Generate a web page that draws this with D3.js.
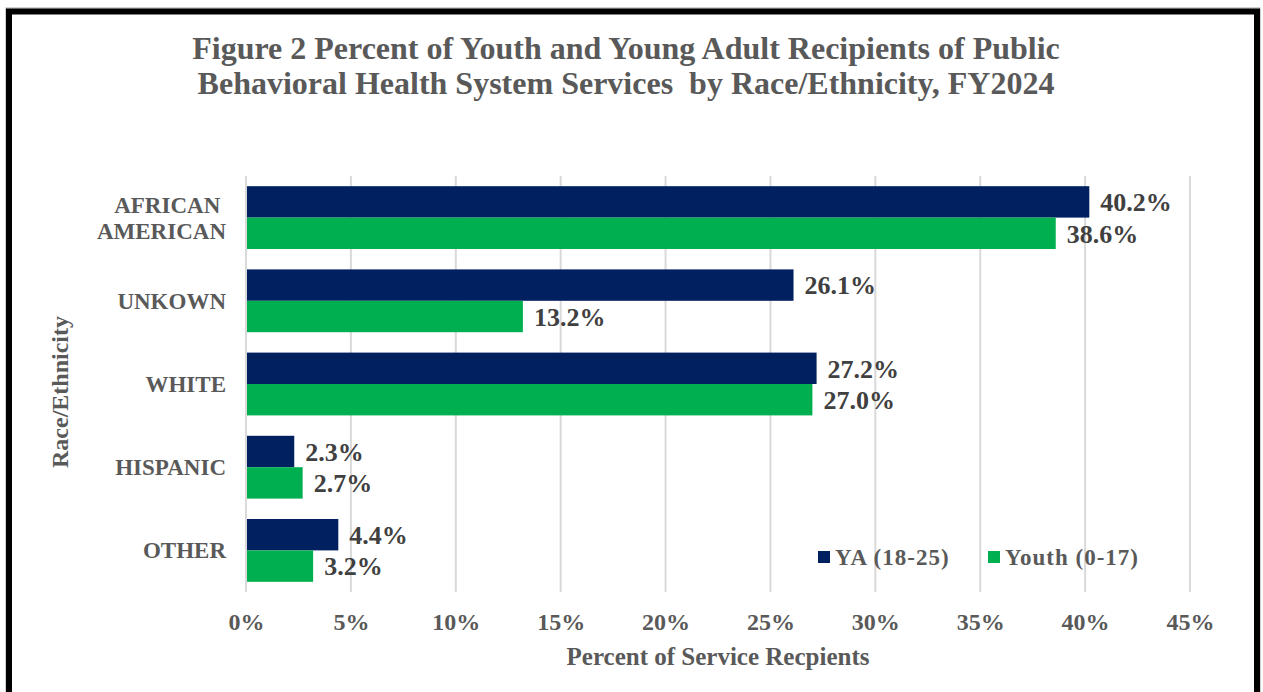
<!DOCTYPE html>
<html>
<head>
<meta charset="utf-8">
<script src="https://cdn.jsdelivr.net/npm/d3@7"></script>
<style>
  html, body { margin: 0; padding: 0; background: #fff; }
  svg { display: block; font-family: "Liberation Serif", "Times New Roman", serif; font-weight: bold; }
</style>
</head>
<body>
<svg id="chart" width="1263" height="692"></svg>
<script>
// Race/ethnicity groups, top to bottom
const categories = ["AFRICAN AMERICAN", "UNKOWN", "WHITE", "HISPANIC", "OTHER"];
const categoryLines = [["AFRICAN ", "AMERICAN"], ["UNKOWN"], ["WHITE"], ["HISPANIC"], ["OTHER"]];
// Percent of service recipients per group
const yaValues = [40.2, 26.1, 27.2, 2.3, 4.4];
const youthValues = [38.6, 13.2, 27.0, 2.7, 3.2];
const seriesNames = ["YA (18-25)", "Youth (0-17)"];
const xTicks = [0, 5, 10, 15, 20, 25, 30, 35, 40, 45];

const colors = { ya: "#002060", youth: "#00B050" };
const textGray = "#595959";

const svg = d3.select("#chart");

// outer frame
svg.append("rect").attr("x", 6).attr("y", 8).attr("width", 1254).attr("height", 700)
  .attr("fill", "#fff").attr("stroke", "#a6a6a6").attr("stroke-width", 1);
svg.append("rect").attr("x", 9).attr("y", 11.5).attr("width", 1248).attr("height", 700)
  .attr("fill", "none").attr("stroke", "#000").attr("stroke-width", 6);

// title
const title = svg.append("text").attr("text-anchor", "middle").attr("fill", textGray)
  .attr("font-size", 32);
title.append("tspan").attr("x", 626).attr("y", 59)
  .text("Figure 2 Percent of Youth and Young Adult Recipients of Public");
title.append("tspan").attr("x", 626).attr("y", 94).attr("xml:space", "preserve")
  .text("Behavioral Health System Services  by Race/Ethnicity, FY2024");

const plot = { left: 246, right: 1190, top: 176, bottom: 592 };

const x = d3.scaleLinear().domain([0, 45]).range([plot.left, plot.right]);
const y = d3.scaleBand().domain(categories).range([plot.top, plot.bottom])
  .paddingInner(0.245).paddingOuter(0.1225);
const sub = d3.scaleBand().domain(["ya", "youth"]).range([0, y.bandwidth()]);

// gridlines
svg.append("g").selectAll("line").data(xTicks).join("line")
  .attr("x1", d => x(d)).attr("x2", d => x(d))
  .attr("y1", plot.top).attr("y2", plot.bottom)
  .attr("stroke", "#d9d9d9").attr("stroke-width", 2);

// x axis tick labels
const xAxis = d3.axisBottom(x).tickValues(xTicks).tickFormat(d => d + "%").tickSize(0).tickPadding(21);
const gx = svg.append("g").attr("transform", `translate(0,${plot.bottom})`).call(xAxis);
gx.select(".domain").remove();
gx.selectAll("text").attr("fill", textGray).attr("font-size", 24)
  .attr("font-family", "Liberation Serif").attr("font-weight", "bold");

// bars
const rows = categories.map((c, i) => ({ cat: c, ya: yaValues[i], youth: youthValues[i] }));
const groups = svg.append("g").selectAll("g").data(rows).join("g")
  .attr("transform", d => `translate(0,${y(d.cat)})`);

["ya", "youth"].forEach(key => {
  groups.append("rect")
    .attr("x", x(0)).attr("y", sub(key))
    .attr("width", d => x(d[key]) - x(0)).attr("height", sub.bandwidth())
    .attr("fill", colors[key]);
  groups.append("text")
    .attr("x", d => x(d[key]) + 11).attr("y", sub(key) + sub.bandwidth() / 2)
    .attr("dy", "0.36em").attr("fill", "#404040").attr("font-size", 26)
    .text(d => d3.format(".1f")(d[key]) + "%");
});

// y axis line
svg.append("line").attr("x1", plot.left).attr("x2", plot.left)
  .attr("y1", plot.top).attr("y2", plot.bottom)
  .attr("stroke", "#d9d9d9").attr("stroke-width", 2);

// category labels
const cl = svg.append("g").selectAll("text").data(categories).join("text")
  .attr("text-anchor", "end").attr("fill", textGray).attr("font-size", 23)
  .attr("xml:space", "preserve");
cl.each(function(d, i) {
  const lines = categoryLines[i];
  const cy = y(d) + y.bandwidth() / 2;
  const lh = 26;
  lines.forEach((ln, j) => {
    d3.select(this).append("tspan")
      .attr("x", 226)
      .attr("y", cy + (j - (lines.length - 1) / 2) * lh)
      .attr("dy", "0.35em")
      .text(ln);
  });
});

// axis titles
svg.append("text").attr("transform", "translate(68,392) rotate(-90)")
  .attr("text-anchor", "middle").attr("fill", textGray).attr("font-size", 24)
  .text("Race/Ethnicity");
svg.append("text").attr("x", 718).attr("y", 665)
  .attr("text-anchor", "middle").attr("fill", textGray).attr("font-size", 25)
  .text("Percent of Service Recpients");

// legend
const legend = svg.append("g").attr("transform", "translate(818,557)");
const legendItems = [{ key: "ya", name: seriesNames[0], dx: 0 }, { key: "youth", name: seriesNames[1], dx: 170 }];
legendItems.forEach(it => {
  legend.append("rect").attr("x", it.dx).attr("y", -6).attr("width", 12).attr("height", 12)
    .attr("fill", colors[it.key]);
  legend.append("text").attr("x", it.dx + 17).attr("y", 0).attr("dy", "0.35em")
    .attr("fill", textGray).attr("font-size", 23).attr("letter-spacing", 1)
    .text(it.name);
});
</script>
</body>
</html>
